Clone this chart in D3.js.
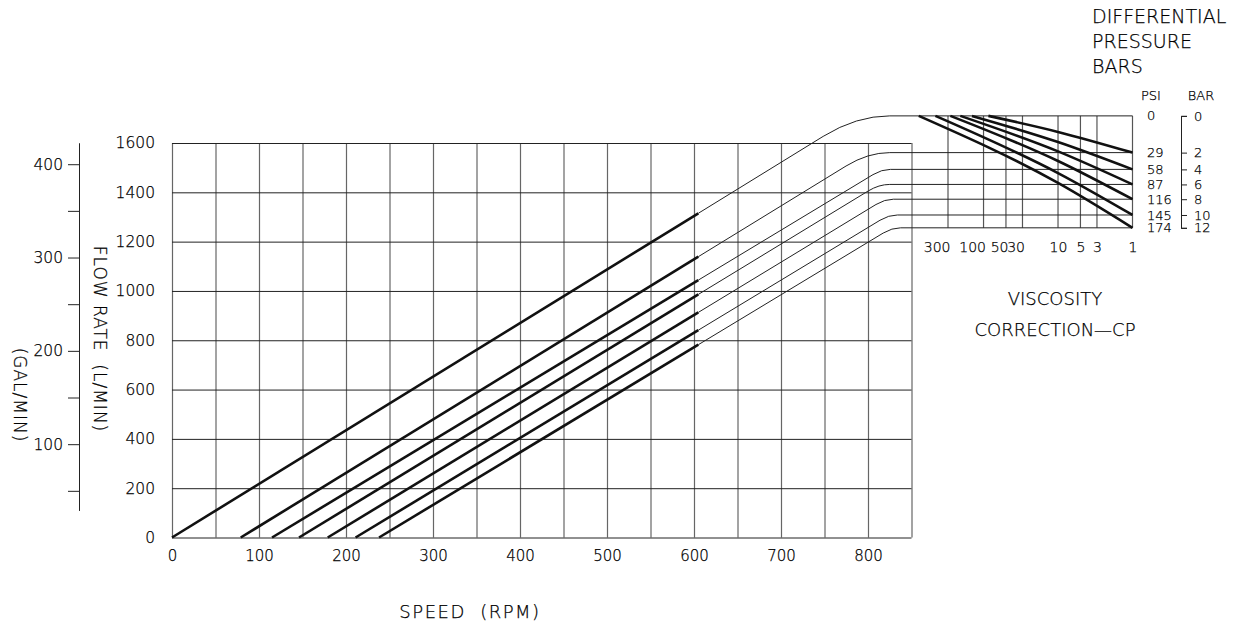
<!DOCTYPE html>
<html>
<head>
<meta charset="utf-8">
<script src="https://cdn.jsdelivr.net/npm/d3@7"></script>
<style>
    body { margin: 0; background: #fff; }
    text { font-family: "DejaVu Sans", sans-serif; font-weight: 200; fill: #000; stroke: #000; stroke-width: 0.25px; }
</style>
</head>
<body>
<script>
// values
const speedTicks = [0, 100, 200, 300, 400, 500, 600, 700, 800];
const speedGrid = [0, 50, 100, 150, 200, 250, 300, 350, 400, 450, 500, 550, 600, 650, 700, 750, 800, 850];
const flowTicks = [0, 200, 400, 600, 800, 1000, 1200, 1400, 1600];
const galTicks = [50, 100, 150, 200, 250, 300, 350, 400];
const galExtent = [29, 423];

// one line per pressure: speed at zero flow, flow at end of thick part, flow where it levels off
const lineStartSpeed = [0, 79, 115, 146, 179, 211, 238];
const lineEndFlow = [1315, 1139, 1044, 986, 913, 841, 782];
const thickEndSpeed = 605;
const levelFlow = [1710, 1561, 1493, 1432, 1372, 1308, 1256];
const levelOnSpeed = 825;

const psiLabels = ["0", "29", "58", "87", "116", "145", "174"];
const barLabels = ["0", "2", "4", "6", "8", "10", "12"];

// viscosity correction panel
const viscTicks = [300, 100, 50, 30, 10, 5, 3, 1];
const curveStartVisc = [86, 143, 205, 279, 443, 741];
const curveMidFlow = [1645, 1604, 1566, 1527, 1478, 1438]; // at 10 cP

const width = 1238;
const height = 625;

const svg = d3.select("body").append("svg")
    .attr("width", width)
    .attr("height", height);

const x = d3.scaleLinear().domain([0, 850]).range([172, 911.5]);
const y = d3.scaleLinear().domain([0, 1600]).range([537.5, 143]);
const vx = d3.scaleLog().domain([1, 300]).range([1132.5, 948]);
const gal = d3.scaleLinear().domain(galExtent).range(galExtent.map(g => y(g * 3.785)));

// grid
svg.append("g").selectAll("line")
    .data(speedGrid)
    .enter().append("line")
    .attr("x1", d => x(d) + 0.5).attr("x2", d => x(d) + 0.5)
    .attr("y1", y(0)).attr("y2", y(1600))
    .attr("stroke", "#666").attr("stroke-width", 1.2);

svg.append("g").selectAll("line")
    .data(flowTicks)
    .enter().append("line")
    .attr("x1", x(0)).attr("x2", x(850))
    .attr("y1", d => y(d) + 0.5).attr("y2", d => y(d) + 0.5)
    .attr("stroke", "#222").attr("stroke-width", 1);

// viscosity grid verticals
svg.append("g").selectAll("line")
    .data(viscTicks)
    .enter().append("line")
    .attr("x1", d => vx(d)).attr("x2", d => vx(d))
    .attr("y1", y(levelFlow[0])).attr("y2", y(levelFlow[6]))
    .attr("stroke", "#555").attr("stroke-width", 1.2);

// axes labels
const xAxis = svg.append("g")
    .attr("transform", "translate(0," + y(0) + ")")
    .call(d3.axisBottom(x).tickValues(speedTicks).tickSize(0).tickPadding(13));
xAxis.select(".domain").remove();
xAxis.selectAll("text").style("font-size", "15px");

const yAxis = svg.append("g")
    .attr("transform", "translate(" + x(0) + ",0)")
    .call(d3.axisLeft(y).tickValues(flowTicks).tickSize(0).tickPadding(17).tickFormat(d => d));
yAxis.select(".domain").remove();
yAxis.selectAll("text").style("font-size", "15.5px");

const galAxis = svg.append("g")
    .attr("transform", "translate(79,0)")
    .style("color", "#222")
    .call(d3.axisLeft(gal).tickValues(galTicks).tickSize(11).tickSizeOuter(0).tickPadding(5)
        .tickFormat(d => d % 100 ? "" : d));
galAxis.selectAll("text").style("font-size", "15.5px");

// titles
svg.append("text")
    .attr("transform", "translate(20,395) rotate(90)")
    .attr("text-anchor", "middle").attr("dominant-baseline", "central")
    .attr("letter-spacing", 1)
    .style("font-size", "17px")
    .text("(GAL/MIN)");

svg.append("text")
    .attr("transform", "translate(100,339) rotate(90)")
    .attr("text-anchor", "middle").attr("dominant-baseline", "central")
    .attr("xml:space", "preserve")
    .attr("letter-spacing", 1)
    .style("font-size", "17px")
    .text("FLOW RATE  (L/MIN)");

svg.append("text")
    .attr("x", 470).attr("y", 618)
    .attr("text-anchor", "middle")
    .attr("xml:space", "preserve")
    .attr("letter-spacing", 1.5)
    .style("font-size", "18px")
    .text("SPEED  (RPM)");

// thin continuations: straight, round into the level, then across the viscosity panel
lineStartSpeed.forEach((a, i) => {
    const f = lineEndFlow[i];
    const lvl = levelFlow[i];
    const k = f / (thickEndSpeed - a);
    const c = a + lvl / k;
    const d = Math.max(levelOnSpeed - c, 10);
    const s = c - d;
    const p = d3.path();
    p.moveTo(x(thickEndSpeed), y(f));
    p.lineTo(x(s), y((s - a) * k));
    p.quadraticCurveTo(x(c), y(lvl), x(c + d), y(lvl));
    p.lineTo(vx(1), y(lvl));
    svg.append("path")
        .attr("d", p.toString())
        .attr("fill", "none")
        .attr("stroke", "#222")
        .attr("stroke-width", 1);
});

// thick speed lines
const speedLine = d3.line().x(d => x(d[0])).y(d => y(d[1]));
svg.append("g").selectAll("path")
    .data(lineStartSpeed.map((a, i) => [[a, 0], [thickEndSpeed, lineEndFlow[i]]]))
    .enter().append("path")
    .attr("d", speedLine)
    .attr("fill", "none")
    .attr("stroke", "#111")
    .attr("stroke-width", 2.6);

// pressure curves in the viscosity panel
const viscLine = d3.line()
    .x(d => vx(d[0])).y(d => y(d[1]))
    .curve(d3.curveMonotoneX);
svg.append("g").selectAll("path")
    .data(curveStartVisc.map((v, i) => [[v, levelFlow[0]], [10, curveMidFlow[i]], [1, levelFlow[i + 1]]]))
    .enter().append("path")
    .attr("d", viscLine)
    .attr("fill", "none")
    .attr("stroke", "#111")
    .attr("stroke-width", 2.6);

// viscosity tick labels
const vAxis = svg.append("g")
    .attr("transform", "translate(0," + y(levelFlow[6]) + ")")
    .call(d3.axisBottom(vx).tickValues(viscTicks).tickSize(0).tickPadding(14).tickFormat(d => d));
vAxis.select(".domain").remove();
vAxis.selectAll("text")
    .style("font-size", "14px")
    .attr("text-anchor", d => d >= 30 ? "end" : "middle")
    .attr("x", d => d >= 30 ? 2 : 0);

svg.append("text")
    .attr("x", 1055).attr("y", 305)
    .attr("text-anchor", "middle")
    .style("font-size", "18px")
    .text("VISCOSITY");
svg.append("text")
    .attr("x", 1055).attr("y", 336)
    .attr("text-anchor", "middle")
    .style("font-size", "18px")
    .text("CORRECTION—CP");

// pressure scales
svg.append("g").selectAll("text")
    .data(psiLabels)
    .enter().append("text")
    .attr("x", 1147)
    .attr("y", (d, i) => y(levelFlow[i]))
    .attr("dy", "0.35em")
    .style("font-size", "13px")
    .text(d => d);

const barScale = d3.scaleOrdinal().domain(barLabels).range(levelFlow.map(f => y(f)));
const barAxis = svg.append("g")
    .attr("transform", "translate(1181,0)")
    .style("color", "#222")
    .call(d3.axisRight(barScale).tickSize(6).tickSizeOuter(6).tickPadding(7));
barAxis.selectAll("text").style("font-size", "13px");

svg.append("text")
    .attr("x", 1151).attr("y", 100)
    .attr("text-anchor", "middle")
    .style("font-size", "13px")
    .text("PSI");
svg.append("text")
    .attr("x", 1201).attr("y", 100)
    .attr("text-anchor", "middle")
    .style("font-size", "13px")
    .text("BAR");

["DIFFERENTIAL", "PRESSURE", "BARS"].forEach((t, i) => {
    svg.append("text")
        .attr("x", 1092).attr("y", 23 + i * 25)
        .style("font-size", "19px")
        .text(t);
});
</script>
</body>
</html>
